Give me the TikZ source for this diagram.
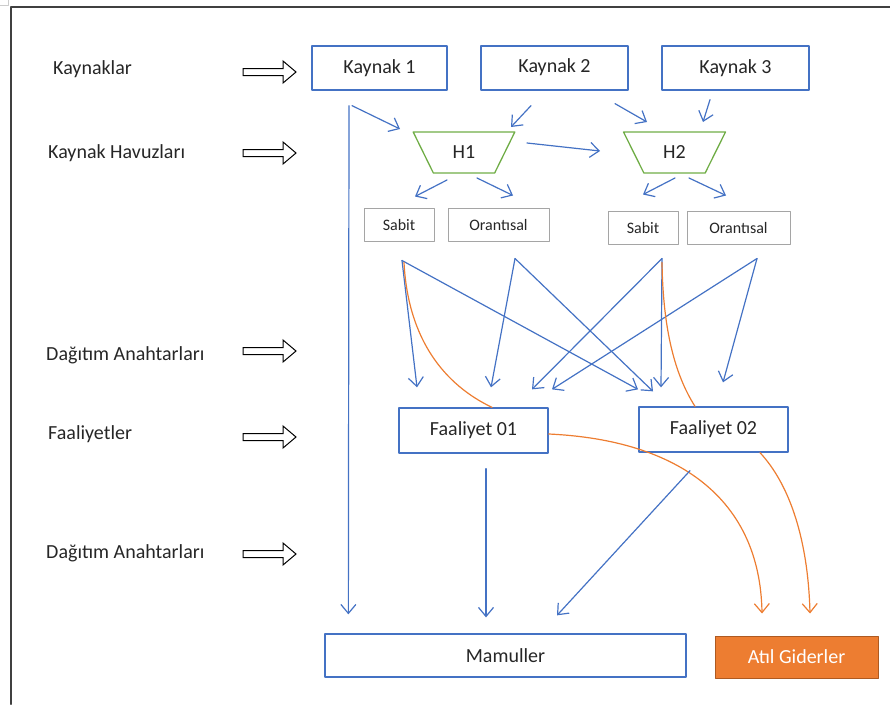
\documentclass[tikz,border=0pt]{standalone}
\usepackage{fontspec}
\setmainfont{Carlito}
\usetikzlibrary{calc,arrows.meta,shapes.geometric}

\definecolor{offblue}{HTML}{4472C4}
\definecolor{offgreen}{HTML}{70AD47}
\definecolor{offorange}{HTML}{ED7D31}
\definecolor{offdark}{HTML}{AE5A21}
\definecolor{offgray}{HTML}{A5A5A5}
\definecolor{txt}{HTML}{262626}

\tikzset{
  bluebox/.style={draw=offblue,line width=1.3pt,inner sep=0pt,text=txt,
    font=\fontsize{20}{24}\selectfont},
  graybox/.style={draw=offgray,line width=1pt,inner sep=0pt,minimum height=33pt,
    text=txt,font=\fontsize{16}{19}\selectfont},
  pool/.style={trapezium,trapezium stretches=true,shape border rotate=180,
    draw=offgreen,line width=1.3pt,minimum width=102pt,minimum height=41pt,
    inner sep=0pt,text=txt,font=\fontsize{20}{24}\selectfont},
  lbl/.style={anchor=west,inner sep=0pt,text=txt,font=\fontsize{20}{24}\selectfont},
  flow/.style={draw=offblue,line width=1.2pt,-{Straight Barb[length=9pt,width=15pt]}},
  waste/.style={draw=offorange,line width=1.2pt,-{Straight Barb[length=9pt,width=15pt]}},
  blockarrow/.style={draw=black,line width=1pt,fill=white,line join=miter}
}

\begin{document}
\begin{tikzpicture}[x=1pt,y=-1pt,line cap=round,line join=round]
  \useasboundingbox (0,0) rectangle (890,704);
  \draw[black!20,line width=0.8pt] (8,0) -- (8,5) -- (0,5);
  \draw[black!75,line width=2pt] (890,7) -- (11,7) -- (11,704);

  \node[lbl] (lkay) at (53,69) {Kaynaklar};
  \node[lbl] (lhav) at (48,153) {Kaynak Havuzları};
  \node[lbl] (ldag1) at (46,355) {Dağıtım Anahtarları};
  \node[lbl] (lfaa) at (48,434) {Faaliyetler};
  \node[lbl] (ldag2) at (46,553) {Dağıtım Anahtarları};
  \foreach \y in {72,153,351,437,554}
    \draw[blockarrow] (243,\y-3.5) -- (283,\y-3.5) -- (283,\y-11) -- (296,\y)
      -- (283,\y+11) -- (283,\y+3.5) -- (243,\y+3.5) -- cycle;

  \node[bluebox,minimum width=135pt,minimum height=44pt] (k1) at (379.5,68) {Kaynak 1};
  \node[bluebox,minimum width=147pt,minimum height=44pt,text depth=4pt] (k2) at (554.5,68) {Kaynak 2};
  \node[bluebox,minimum width=147pt,minimum height=44pt] (k3) at (735.5,68) {Kaynak 3};

  \node[pool] (h1) at (464,152.5) {H1};
  \node[pool] (h2) at (674.5,152.5) {H2};

  \node[graybox,minimum width=70pt] (sab1) at (399,224.5) {Sabit};
  \node[graybox,minimum width=101pt] (ora1) at (498.5,224.5) {Orantısal};
  \node[graybox,minimum width=70pt] (sab2) at (643,227.5) {Sabit};
  \node[graybox,minimum width=103pt] (ora2) at (738.5,227.5) {Orantısal};

  \node[bluebox,minimum width=149pt,minimum height=45pt] (f1) at (473.5,430.5) {Faaliyet 01};
  \node[bluebox,minimum width=149pt,minimum height=45pt] (f2) at (713.5,429.5) {Faaliyet 02};

  \node[bluebox,minimum width=361pt,minimum height=43pt] (mam) at (505.5,655.5) {Mamuller};
  \node[draw=offdark,fill=offorange,line width=1pt,minimum width=163pt,minimum height=42pt,
    inner sep=0pt,text=white,font=\fontsize{20}{24}\selectfont] (atil) at (796.5,657) {Atıl Giderler};

  \draw[flow] ([shift={(-30.5,15)}]k1.south) -- ([shift={(24,-19)}]mam.north west);
  \draw[flow] ([shift={(-27.5,15)}]k1.south) -- ([shift={(-64,-23.5)}]h1.center);
  \draw[flow] ([shift={(-23.5,15)}]k2.south) -- ([shift={(47,-25.5)}]h1.center);
  \draw[flow] ([shift={(60.5,13)}]k2.south) -- ([shift={(-27.5,-30.5)}]h2.center);
  \draw[flow] ([shift={(-25.5,9)}]k3.south) -- ([shift={(28.5,-30.5)}]h2.center);
  \draw[flow] ([shift={(63,-9.5)}]h1.center) -- ([shift={(-74.5,-1.5)}]h2.center);
  \draw[flow] ([shift={(-17,27.5)}]h1.center) -- ([shift={(16,-11)}]sab1.north);
  \draw[flow] ([shift={(13,25.5)}]h1.center) -- ([shift={(14.5,-12)}]ora1.north);
  \draw[flow] ([shift={(0.5,25.5)}]h2.center) -- ([shift={(0,-16)}]sab2.north);
  \draw[flow] ([shift={(14.5,25.5)}]h2.center) -- ([shift={(-12.5,-15)}]ora2.north);

  \coordinate (s1o) at ([shift={(3,19)}]sab1.south);
  \coordinate (o1o) at ([shift={(16.5,17)}]ora1.south);
  \coordinate (s2o) at ([shift={(19,14)}]sab2.south);
  \coordinate (o2o) at ([shift={(18.5,14)}]ora2.south);
  \coordinate (ta) at ([shift={(-56.5,-20)}]f1.north);
  \coordinate (tb) at ([shift={(17.5,-20)}]f1.north);
  \coordinate (tc) at ([shift={(58.5,-18)}]f1.north);
  \coordinate (td) at ([shift={(78.5,-18)}]f1.north);
  \coordinate (te) at ([shift={(-75.5,-17)}]f2.north);
  \coordinate (tf) at ([shift={(-60.5,-15)}]f2.north);
  \coordinate (tg) at ([shift={(-52.5,-19)}]f2.north);
  \coordinate (th) at ([shift={(9.5,-24)}]f2.north);
  \draw[flow] (s1o) -- (ta);
  \draw[flow] (s1o) -- (te);
  \draw[flow] (o1o) -- (tb);
  \draw[flow] (o1o) -- (tf);
  \draw[flow] (s2o) -- (tc);
  \draw[flow] (s2o) -- (tg);
  \draw[flow] (o2o) -- (td);
  \draw[flow] (o2o) -- (th);

  \draw[waste,-] ([shift={(2,2)}]s1o) .. controls (408,340) and (445,385) .. ([shift={(18.5,0)}]f1.north);
  \draw[waste,-] ([shift={(0,4)}]s2o) .. controls (663,330) and (675,375) .. ([shift={(-18.5,0)}]f2.north);
  \draw[waste] ([shift={(0,3.5)}]f1.east) .. controls (680,440) and (760,500) .. ([shift={(-34.5,-22)}]atil.north);
  \draw[waste] ([shift={(46.5,0)}]f2.south) .. controls (790,485) and (808,540) .. ([shift={(13.5,-22)}]atil.north);

  \draw[flow] ([shift={(12.5,15)}]f1.south) -- ([shift={(-19.5,-16)}]mam.north);
  \draw[flow] ([shift={(-23.5,18)}]f2.south) -- ([shift={(51.5,-18)}]mam.north);
\end{tikzpicture}
\end{document}
